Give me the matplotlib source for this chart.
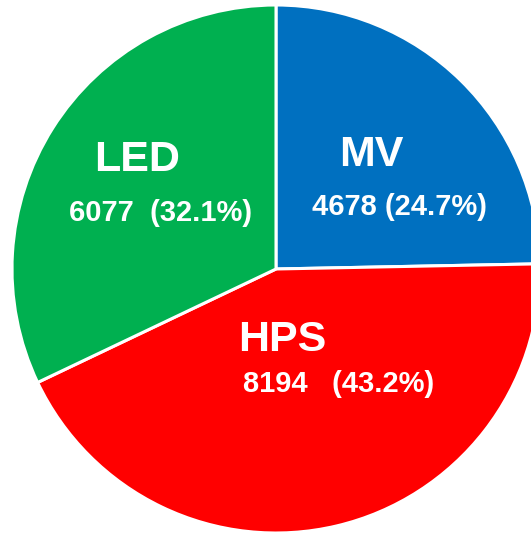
import matplotlib.pyplot as plt

# slice data (clockwise from 12 o'clock)
labels = ["MV", "HPS", "LED"]
values = [4678, 8194, 6077]
colors = ["#0070C0", "#FF0000", "#00B050"]

# label layout in pixels (name centre, value-line centre) and gap between number and percent
W, H = 531, 533
CX, CY, R = 276, 269, 264
name_px = [(371, 155), (282, 340), (137, 160)]
val_px = [(399, 207), (339, 384), (161, 213)]
gaps = [" ", "   ", "  "]


def to_data(px, py):
    return (px - CX) / R, (CY - py) / R


plt.rcParams["font.family"] = ["Liberation Sans", "DejaVu Sans"]

fig = plt.figure(figsize=(W / 100, H / 100), dpi=100)
ax = fig.add_axes([0, 0, 1, 1])

ax.pie(values, colors=colors, startangle=90, counterclock=False, radius=1.0,
       wedgeprops=dict(edgecolor="white", linewidth=2.2))

total = sum(values)
for i, lab in enumerate(labels):
    x, y = to_data(*name_px[i])
    ax.text(x, y, lab, ha="center", va="center", color="white",
            fontsize=31, fontweight="bold")
    pct = 100.0 * values[i] / total
    x, y = to_data(*val_px[i])
    ax.text(x, y, f"{values[i]}{gaps[i]}({pct:.1f}%)", ha="center", va="center",
            color="white", fontsize=21, fontweight="bold")

ax.set_xlim(-CX / R, (W - CX) / R)
ax.set_ylim(-(H - CY) / R, CY / R)
ax.set_aspect("equal")
ax.axis("off")

fig.savefig("out.png", dpi=100)
